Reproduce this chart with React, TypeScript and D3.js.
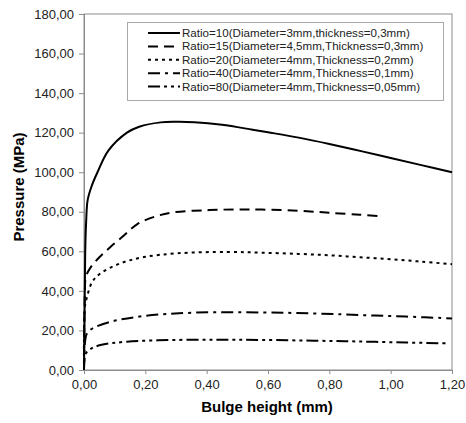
import React, { useEffect, useRef } from "react";
import * as d3 from "d3";

// Bulge height (mm) vs pressure (MPa)
const ratio10: [number, number][] = [
  [0, 0], [0.002, 30], [0.004, 60], [0.007, 75], [0.012, 86], [0.025, 93],
  [0.044, 100], [0.08, 111], [0.14, 120], [0.18, 123], [0.25, 125.2],
  [0.3, 125.5], [0.36, 125.3], [0.45, 124], [0.55, 121.5], [0.6, 120.2],
  [0.7, 117.5], [0.8, 114.3], [0.9, 110.8], [1.0, 107.2], [1.1, 103.6], [1.2, 100],
];
const ratio15: [number, number][] = [
  [0, 0], [0.003, 40], [0.006, 47], [0.02, 51.5], [0.05, 57], [0.087, 62.3],
  [0.13, 68], [0.174, 73.8], [0.23, 77.5], [0.29, 79.7], [0.4, 80.8],
  [0.5, 81.2], [0.58, 81.1], [0.7, 80.5], [0.8, 79.5], [0.9, 78.5], [0.96, 77.8],
];
const ratio20: [number, number][] = [
  [0, 0], [0.003, 32], [0.01, 37], [0.027, 44.6], [0.054, 48.9], [0.12, 54],
  [0.195, 57.1], [0.305, 59], [0.47, 59.7], [0.58, 59.3], [0.7, 58.7],
  [0.8, 58], [0.9, 57], [1.0, 56], [1.1, 54.8], [1.2, 53.5],
];
const ratio40: [number, number][] = [
  [0, 0], [0.004, 15], [0.01, 18.6], [0.03, 21.2], [0.087, 24.4], [0.195, 27.3],
  [0.36, 29], [0.58, 29.1], [0.75, 28.6], [0.9, 27.8], [1.05, 27], [1.2, 26.1],
];
const ratio80: [number, number][] = [
  [0, 0], [0.005, 8], [0.02, 10.5], [0.054, 12.6], [0.14, 14.3], [0.305, 15.2],
  [0.45, 15.3], [0.58, 15.2], [0.75, 14.8], [0.9, 14.4], [1.05, 13.9], [1.18, 13.5],
];

const seriesLabels = [
  "Ratio=10(Diameter=3mm,thickness=0,3mm)",
  "Ratio=15(Diameter=4,5mm,Thickness=0,3mm)",
  "Ratio=20(Diameter=4mm,Thickness=0,2mm)",
  "Ratio=40(Diameter=4mm,Thickness=0,1mm)",
  "Ratio=80(Diameter=4mm,Thickness=0,05mm)",
];
const seriesData = [ratio10, ratio15, ratio20, ratio40, ratio80];
const dashes = ["none", "10,6", "3,4", "12,5,3,5", "12,4,3,4,3,4"];

const xTicks = [0, 0.2, 0.4, 0.6, 0.8, 1.0, 1.2];
const yTicks = [0, 20, 40, 60, 80, 100, 120, 140, 160, 180];

const fmt = (v: number) => v.toFixed(2).replace(".", ",");

export default function App() {
  const svgRef = useRef<SVGSVGElement>(null);

  useEffect(() => {
    const W = 466, H = 423;
    const margin = { top: 14, right: 14, bottom: 53, left: 84 };
    const innerW = W - margin.left - margin.right;
    const innerH = H - margin.top - margin.bottom;
    const font = "'Liberation Sans', Arial, sans-serif";

    const svg = d3.select(svgRef.current);
    svg.selectAll("*").remove();
    svg.attr("width", W).attr("height", H);
    svg.append("rect").attr("width", W).attr("height", H).attr("fill", "#fff");

    const x = d3.scaleLinear().domain([0, 1.2]).range([0, innerW]);
    const y = d3.scaleLinear().domain([0, 180]).range([innerH, 0]);

    const g = svg.append("g").attr("transform", `translate(${margin.left},${margin.top})`);

    // frame
    g.append("rect")
      .attr("x", 0).attr("y", 0)
      .attr("width", innerW).attr("height", innerH)
      .attr("fill", "none")
      .attr("stroke", "#8c8c8c")
      .attr("stroke-width", 1);

    // y axis
    g.append("g")
      .call(d3.axisLeft(y).tickValues(yTicks).tickSize(5).tickPadding(5).tickFormat(d => fmt(+d)))
      .call(ax => {
        ax.select(".domain").attr("stroke", "#8c8c8c");
        ax.selectAll("line").attr("stroke", "#8c8c8c");
        ax.selectAll("text")
          .attr("fill", "#222")
          .style("font-size", "13px")
          .style("font-family", font);
      });

    // x axis
    g.append("g")
      .attr("transform", `translate(0,${innerH})`)
      .call(d3.axisBottom(x).tickValues(xTicks).tickSize(4).tickPadding(6).tickFormat(d => fmt(+d)))
      .call(ax => {
        ax.select(".domain").attr("stroke", "#8c8c8c");
        ax.selectAll("line").attr("stroke", "#8c8c8c");
        ax.selectAll("text")
          .attr("fill", "#222")
          .style("font-size", "13px")
          .style("font-family", font);
      });

    const line = d3.line<[number, number]>()
      .x(d => x(d[0]))
      .y(d => y(d[1]))
      .curve(d3.curveCatmullRom.alpha(0.5));

    seriesData.forEach((s, i) => {
      g.append("path")
        .attr("d", line(s))
        .attr("fill", "none")
        .attr("stroke", "#000")
        .attr("stroke-width", 2)
        .attr("stroke-dasharray", dashes[i]);
    });

    // legend
    const lg = svg.append("g");
    lg.append("rect")
      .attr("x", 127.5).attr("y", 22.5)
      .attr("width", 316).attr("height", 78)
      .attr("fill", "#fff")
      .attr("stroke", "#aaa")
      .attr("stroke-width", 1);
    seriesLabels.forEach((lab, i) => {
      const ly = 33 + i * 13.4;
      lg.append("line")
        .attr("x1", 148).attr("x2", 180)
        .attr("y1", ly).attr("y2", ly)
        .attr("stroke", "#000")
        .attr("stroke-width", 2)
        .attr("stroke-dasharray", dashes[i]);
      lg.append("text")
        .attr("x", 182).attr("y", ly + 4)
        .attr("fill", "#222")
        .style("font-size", "11.6px")
        .style("font-family", font)
        .text(lab);
    });

    // axis titles
    svg.append("text")
      .attr("x", margin.left + innerW / 2 - 1)
      .attr("y", 412)
      .attr("text-anchor", "middle")
      .style("font-size", "15px")
      .style("font-weight", "bold")
      .style("font-family", font)
      .text("Bulge height (mm)");

    svg.append("text")
      .attr("transform", `translate(24,187) rotate(-90)`)
      .attr("text-anchor", "middle")
      .style("font-size", "15px")
      .style("font-weight", "bold")
      .style("font-family", font)
      .text("Pressure (MPa)");
  }, []);

  return (
    <svg ref={svgRef} style={{ position: "fixed", left: 0, top: 0, display: "block" }} />
  );
}
